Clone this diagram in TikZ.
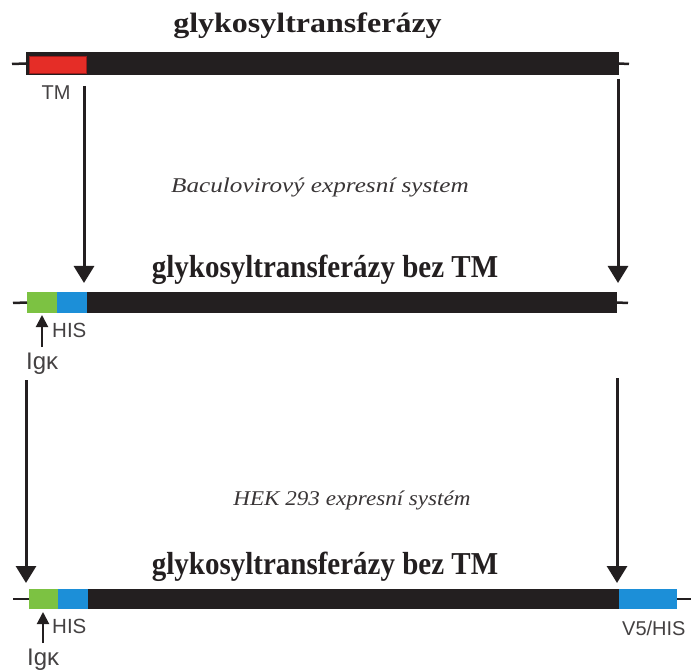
\documentclass[tikz,border=0pt]{standalone}
\usepackage{fontspec}
\setmainfont{Liberation Serif}
\newfontfamily\labfont{Liberation Sans}
\usetikzlibrary{arrows.meta}
\definecolor{barblack}{HTML}{231F20}
\definecolor{tmred}{HTML}{E52D27}
\definecolor{tmedge}{HTML}{9E1B1B}
\definecolor{iggreen}{HTML}{7CC242}
\definecolor{hisblue}{HTML}{1C8FD8}
\begin{document}
\begin{tikzpicture}[x=1pt,y=-1pt,
  barbox/.style={fill=barblack, draw=none, inner sep=0, outer sep=0, anchor=north west},
  segbox/.style={draw=none, inner sep=0, outer sep=0, anchor=north west},
  stub/.style={draw=barblack, line width=2.5pt},
  bigarrow/.style={draw=barblack, line width=3pt, -{Triangle[width=20pt,length=17pt]}},
  smallarrow/.style={draw=barblack, line width=2pt, -{Triangle[width=12pt,length=12pt]}},
  titletext/.style={inner sep=0, anchor=base, text=barblack},
  notetext/.style={inner sep=0, anchor=base, text=barblack!90},
  labtext/.style={font=\labfont, inner sep=0, anchor=base, text=barblack!85}]
\useasboundingbox (0,0) rectangle (691,671);

% ---------- bar 1 ----------
\node[barbox, minimum width=593pt, minimum height=23pt] (bar1) at (26,52) {};
\node[segbox, draw=tmedge, line width=0.6pt, fill=tmred, minimum width=57pt, minimum height=17pt] (tm) at (29,56) {};
\coordinate (b1l) at (12,64);
\coordinate (b1r) at (629,64);
\draw[stub] (b1l) -- (bar1.west);
\draw[stub] (bar1.east) -- (b1r);
\node[labtext, font=\labfont\fontsize{20}{20}\selectfont] (tmlab) at (56,100) {TM};

% ---------- bar 2 ----------
\node[barbox, minimum width=590pt, minimum height=21pt] (bar2) at (27,292) {};
\node[segbox, fill=iggreen, minimum width=30pt, minimum height=21pt] (ig2) at (27,292) {};
\node[segbox, fill=hisblue, minimum width=30pt, minimum height=21pt] (his2) at (57,292) {};
\coordinate (b2l) at (13,303);
\coordinate (b2r) at (628,303);
\draw[stub] (b2l) -- (bar2.west);
\draw[stub] (bar2.east) -- (b2r);
\coordinate (ar2s) at (42,347);
\coordinate (ar2e) at (42,315);
\draw[smallarrow] (ar2s) -- (ar2e);
\node[labtext, anchor=base west, font=\labfont\fontsize{20.5}{20}\selectfont] (hislab2) at (52,337) {HIS};
\node[labtext, anchor=base west, font=\labfont\fontsize{24}{24}\selectfont] (iglab2) at (26,369) {Igκ};

% ---------- bar 3 ----------
\node[barbox, minimum width=590pt, minimum height=20pt] (bar3) at (29,589) {};
\node[segbox, fill=iggreen, minimum width=29pt, minimum height=20pt] (ig3) at (29,589) {};
\node[segbox, fill=hisblue, minimum width=30pt, minimum height=20pt] (his3) at (58,589) {};
\node[segbox, fill=hisblue, minimum width=58pt, minimum height=20pt] (v5) at (619,589) {};
\coordinate (b3l) at (13,599);
\coordinate (b3r) at (691,599);
\draw[stub] (b3l) -- (bar3.west);
\draw[stub] (v5.east) -- (b3r);
\coordinate (ar3s) at (43,643);
\coordinate (ar3e) at (43,612);
\draw[smallarrow] (ar3s) -- (ar3e);
\node[labtext, anchor=base west, font=\labfont\fontsize{20.5}{20}\selectfont] (hislab3) at (52,633) {HIS};
\node[labtext, anchor=base west, font=\labfont\fontsize{24}{24}\selectfont] (iglab3) at (27,665) {Igκ};
\node[labtext, anchor=base west, font=\labfont\fontsize{20}{20}\selectfont] (v5lab) at (622,635) {V5/HIS};

% ---------- big arrows ----------
\coordinate (a1s) at (84,86);   \coordinate (a1e) at (84,283);
\coordinate (a2s) at (618,79);  \coordinate (a2e) at (618,283);
\coordinate (a3s) at (26,380);  \coordinate (a3e) at (26,583);
\coordinate (a4s) at (617,378); \coordinate (a4e) at (617,583);
\draw[bigarrow] (a1s) -- (a1e);
\draw[bigarrow] (a2s) -- (a2e);
\draw[bigarrow] (a3s) -- (a3e);
\draw[bigarrow] (a4s) -- (a4e);

% ---------- titles ----------
\node[titletext] (t1) at (307.5,33) {\scalebox{1}[0.875]{\fontsize{32}{32}\selectfont\bfseries glykosyltransferázy}};
\node[titletext] (t2) at (325,277) {\scalebox{1}[1.1]{\fontsize{29}{29}\selectfont\bfseries glykosyltransferázy bez TM}};
\node[titletext] (t3) at (325,574) {\scalebox{1}[1.1]{\fontsize{29}{29}\selectfont\bfseries glykosyltransferázy bez TM}};

% ---------- notes ----------
\node[notetext] (n1) at (320,193) {\scalebox{1.2}[1]{\fontsize{21}{21}\selectfont\itshape Baculovirový expresní system}};
\node[notetext] (n2) at (352,505) {\scalebox{1.1}[1]{\fontsize{21}{21}\selectfont\itshape HEK 293 expresní systém}};
\end{tikzpicture}
\end{document}
